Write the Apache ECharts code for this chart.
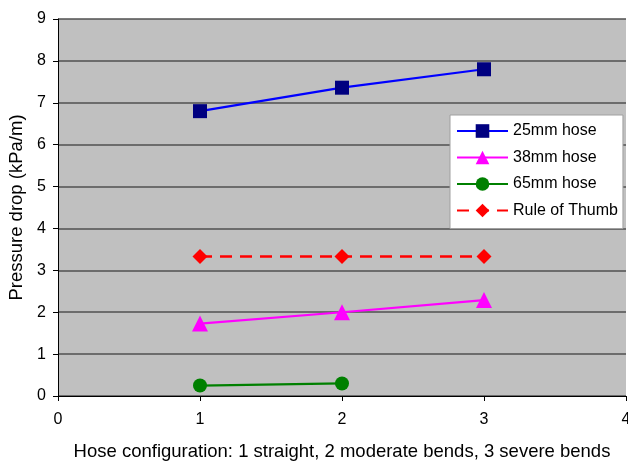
<!DOCTYPE html>
<html>
<head>
<meta charset="utf-8">
<script src="https://cdn.jsdelivr.net/npm/echarts@6/dist/echarts.min.js"></script>
<style>
  html, body { margin: 0; padding: 0; background: #ffffff; }
  #chart { width: 628px; height: 462px; }
</style>
</head>
<body>
<div id="chart"></div>
<script>
// Hose configuration (x) vs. pressure drop (kPa/m)
const configs = [1, 2, 3];
const hose25 = [6.80, 7.36, 7.80];
const hose38 = [1.73, 2.00, 2.29];
const hose65 = [0.25, 0.30];
const ruleOfThumb = [3.33, 3.33, 3.33];

const seriesNames = ['25mm hose', '38mm hose', '65mm hose', 'Rule of Thumb'];

const pairs = (xs, ys) => ys.map((y, i) => [xs[i], y]);

const font = 'Liberation Sans, Arial, sans-serif';

const chart = echarts.init(document.getElementById('chart'), null, { renderer: 'canvas' });

chart.setOption({
  animation: false,
  backgroundColor: '#ffffff',
  grid: {
    left: 58, right: 2, top: 19, bottom: 66,
    outerBoundsMode: 'none',
    containLabel: false,
    show: true, backgroundColor: '#c0c0c0', borderWidth: 0
  },
  xAxis: {
    type: 'value', min: 0, max: 4, interval: 1,
    name: 'Hose configuration: 1 straight, 2 moderate bends, 3 severe bends',
    nameLocation: 'middle', nameGap: 46,
    nameTextStyle: { fontFamily: font, fontSize: 18.5, color: '#000' },
    axisLine: { show: true, lineStyle: { color: '#000', width: 1 } },
    axisTick: { show: true, length: 5, lineStyle: { color: '#000' } },
    axisLabel: { fontFamily: font, fontSize: 16, color: '#000', margin: 16 },
    splitLine: { show: false }
  },
  yAxis: {
    type: 'value', min: 0, max: 9, interval: 1,
    name: 'Pressure drop (kPa/m)',
    nameLocation: 'middle', nameGap: 31,
    nameTextStyle: { fontFamily: font, fontSize: 18.5, color: '#000' },
    axisLine: { show: true, lineStyle: { color: '#000', width: 1 } },
    axisTick: { show: true, length: 5, lineStyle: { color: '#000' } },
    axisLabel: { fontFamily: font, fontSize: 16, color: '#000', margin: 12 },
    splitLine: { show: true, lineStyle: { color: '#505050', width: 1.5 } }
  },
  legend: {
    orient: 'vertical',
    left: 450, top: 115,
    backgroundColor: '#ffffff',
    borderColor: '#a0a0a0', borderWidth: 1,
    padding: [8, 5, 10, 6],
    itemGap: 10.5,
    itemWidth: 51, itemHeight: 17,
    textStyle: { fontFamily: font, fontSize: 16, color: '#000' },
    data: seriesNames
  },
  series: [
    {
      name: seriesNames[0], type: 'line', data: pairs(configs, hose25),
      symbol: 'rect', symbolSize: 14,
      lineStyle: { color: '#0000ff', width: 2.2 },
      itemStyle: { color: '#000080' }
    },
    {
      name: seriesNames[1], type: 'line', data: pairs(configs, hose38),
      symbol: 'triangle', symbolSize: 16,
      lineStyle: { color: '#ff00ff', width: 2.2 },
      itemStyle: { color: '#ff00ff' }
    },
    {
      name: seriesNames[2], type: 'line', data: pairs(configs, hose65),
      symbol: 'circle', symbolSize: 14,
      lineStyle: { color: '#008000', width: 2.2 },
      itemStyle: { color: '#008000' }
    },
    {
      name: seriesNames[3], type: 'line', data: pairs(configs, ruleOfThumb),
      symbol: 'diamond', symbolSize: 15,
      lineStyle: { color: '#ff0000', width: 2.5, type: [12, 8] },
      itemStyle: { color: '#ff0000' }
    }
  ]
});
</script>
</body>
</html>
